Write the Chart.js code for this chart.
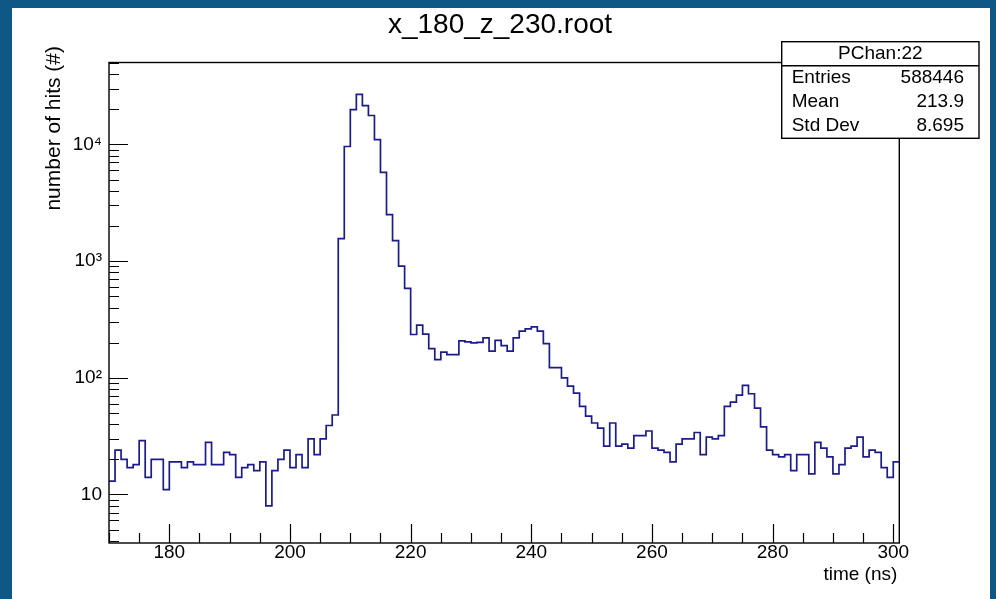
<!DOCTYPE html>
<html>
<head>
<meta charset="utf-8">
<script src="https://cdn.jsdelivr.net/npm/chart.js@4.4.0/dist/chart.umd.min.js"></script>
<style>
  html, body { margin: 0; padding: 0; }
  body { width: 996px; height: 599px; background: #0f5784; position: relative; overflow: hidden; }
  #wrap { position: absolute; left: 12px; top: 8px; width: 978px; height: 591px; background: #fff; }
</style>
</head>
<body>
<div id="wrap"><canvas id="chart" width="978" height="591"></canvas></div>
<script>
// histogram of PChan:22, 1 ns bins starting at 170 ns
const binLow = 170;
const binWidth = 1;
const counts = [
  13, 24, 20, 17, 18, 29, 14, 20, 20, 11,
  19, 19, 17, 19, 18, 18, 28, 18, 18, 23,
  22, 14, 17, 18, 16, 19, 8, 16, 20, 24,
  17, 22, 17, 30, 22, 30, 39, 48, 1560, 9600,
  19900, 26800, 21500, 17700, 11000, 5750, 2500, 1500, 905, 585,
  235, 283, 237, 178, 143, 166, 158, 158, 207, 203,
  199, 201, 220, 169, 209, 189, 169, 220, 251, 263,
  273, 251, 196, 122, 122, 100, 85, 74, 57, 47,
  41, 37, 26, 41, 26, 27, 25, 32, 32, 35,
  25, 24, 23, 19, 27, 30, 30, 34, 22, 31,
  30, 32, 57, 62, 71, 86, 73, 55, 38, 24,
  22, 21, 22, 16, 22, 22, 15, 28, 25, 21,
  15, 18, 25, 26, 31, 21, 24, 23, 17, 14,
  19
];

const xMin = 170, xMax = 301;
const yMin = 3.84, yMax = 50350;
const xMajorTicks = [180, 200, 220, 240, 260, 280, 300];
const xMinorStep = 5;
const yMajorTicks = [10, 100, 1000, 10000];
const yTickLabels = ['10', '10²', '10³', '10⁴'];

const titleText = 'x_180_z_230.root';
const xTitle = 'time (ns)';
const yTitle = 'number of hits (#)';
const statsHeader = 'PChan:22';
const statsNames = ['Entries', 'Mean', 'Std Dev'];
const statsValues = ['588446', '213.9', '8.695'];

const FONT = "'Liberation Sans', Arial, Helvetica, sans-serif";

// step outline: points at bin centres, stepped 'middle' puts the steps on the bin edges
const points = [{ x: binLow, y: counts[0] }];
counts.forEach((c, i) => points.push({ x: binLow + (i + 0.5) * binWidth, y: c }));
points.push({ x: binLow + counts.length * binWidth, y: counts[counts.length - 1] });

const rootDecor = {
  id: 'rootDecor',
  afterDraw(chart) {
    const { ctx, chartArea: a, scales: { x, y } } = chart;
    ctx.save();

    // frame
    ctx.strokeStyle = '#000';
    ctx.lineWidth = 1.4;
    ctx.strokeRect(a.left, a.top, a.right - a.left, a.bottom - a.top);

    // ticks pointing inwards, like ROOT
    ctx.beginPath();
    for (let v = binLow; v <= 300; v += xMinorStep) {
      const px = Math.round(x.getPixelForValue(v)) + 0.5;
      const len = xMajorTicks.includes(v) ? 19 : 10;
      ctx.moveTo(px, a.bottom);
      ctx.lineTo(px, a.bottom - len);
    }
    for (let e = 0; e <= 4; e++) {
      for (let m = 1; m <= 9; m++) {
        const v = m * Math.pow(10, e);
        if (v < yMin || v > yMax) continue;
        const py = Math.round(y.getPixelForValue(v)) + 0.5;
        const len = m === 1 ? 19 : 10;
        ctx.moveTo(a.left, py);
        ctx.lineTo(a.left + len, py);
      }
    }
    ctx.lineWidth = 1.2;
    ctx.stroke();

    ctx.fillStyle = '#000';

    // title
    ctx.font = '28px ' + FONT;
    ctx.textAlign = 'center';
    ctx.textBaseline = 'middle';
    ctx.fillText(titleText, 488, 17);

    // axis titles
    ctx.font = '19px ' + FONT;
    ctx.textAlign = 'right';
    ctx.fillText(xTitle, a.right - 2, 567);
    ctx.save();
    ctx.font = '21px ' + FONT;
    ctx.translate(42, 38);
    ctx.rotate(-Math.PI / 2);
    ctx.textAlign = 'right';
    ctx.fillText(yTitle, 0, 0);
    ctx.restore();

    // stats box
    const bx = 769.7, by = 33.7, bw = 197.3, bh = 96.6, hy = 57.7;
    ctx.fillStyle = '#fff';
    ctx.fillRect(bx, by, bw, bh);
    ctx.strokeStyle = '#000';
    ctx.lineWidth = 1.4;
    ctx.strokeRect(bx, by, bw, bh);
    ctx.beginPath();
    ctx.moveTo(bx, hy);
    ctx.lineTo(bx + bw, hy);
    ctx.stroke();
    ctx.fillStyle = '#000';
    ctx.font = '19px ' + FONT;
    ctx.textAlign = 'center';
    ctx.fillText(statsHeader, bx + bw / 2, 46);
    statsNames.forEach((name, i) => {
      const ty = 70 + i * 24;
      ctx.textAlign = 'left';
      ctx.fillText(name, bx + 10, ty);
      ctx.textAlign = 'right';
      ctx.fillText(statsValues[i], bx + bw - 15, ty);
    });

    ctx.restore();
  }
};

new Chart(document.getElementById('chart'), {
  type: 'line',
  data: {
    datasets: [{
      data: points,
      stepped: 'middle',
      borderColor: '#1b1b8a',
      borderWidth: 1.7,
      pointRadius: 0,
      fill: false
    }]
  },
  options: {
    responsive: false,
    animation: false,
    devicePixelRatio: 1,
    layout: { padding: { left: 0, top: 54.5, right: 90.7, bottom: 0 } },
    plugins: { legend: { display: false }, tooltip: { enabled: false } },
    scales: {
      x: {
        type: 'linear',
        min: xMin,
        max: xMax,
        grid: { display: false, drawTicks: false },
        border: { display: false },
        ticks: { color: '#000', font: { family: FONT, size: 19 }, padding: -2, maxRotation: 0, autoSkip: false },
        afterBuildTicks: s => { s.ticks = xMajorTicks.map(v => ({ value: v })); },
        afterFit: s => { s.height = 56; }
      },
      y: {
        type: 'logarithmic',
        min: yMin,
        max: yMax,
        grid: { display: false, drawTicks: false },
        border: { display: false },
        ticks: {
          color: '#000',
          font: { family: FONT, size: 19 },
          padding: 7,
          autoSkip: false,
          callback: (v, i) => yTickLabels[i]
        },
        afterBuildTicks: s => { s.ticks = yMajorTicks.map(v => ({ value: v })); },
        afterFit: s => { s.width = 97; }
      }
    }
  },
  plugins: [rootDecor]
});
</script>
</body>
</html>
